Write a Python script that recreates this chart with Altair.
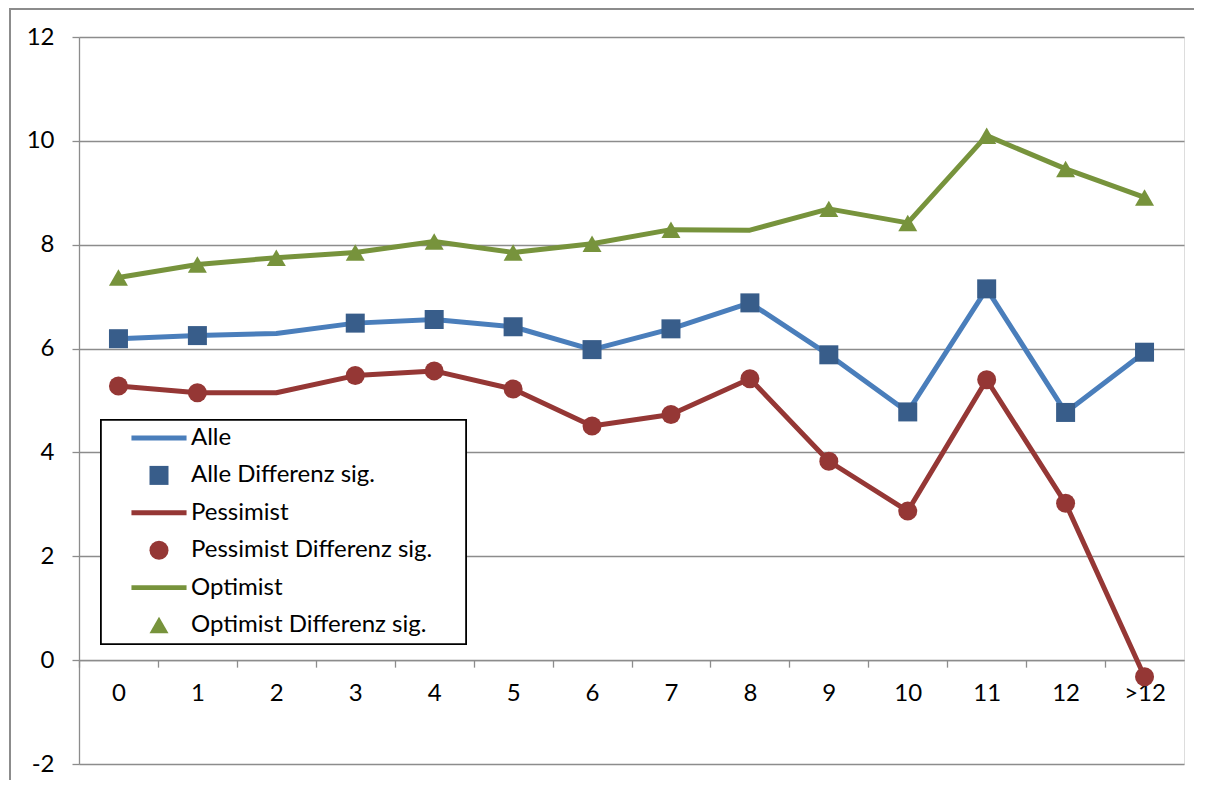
import altair as alt
import pandas as pd

categories = ["0", "1", "2", "3", "4", "5", "6", "7", "8", "9", "10", "11", "12", ">12"]
alle = [6.19, 6.25, 6.29, 6.49, 6.56, 6.42, 5.98, 6.38, 6.88, 5.88, 4.78, 7.15, 4.77, 5.93]
pessimist = [5.28, 5.15, 5.15, 5.48, 5.57, 5.22, 4.51, 4.73, 5.42, 3.83, 2.87, 5.40, 3.02, -0.32]
optimist = [7.37, 7.62, 7.75, 7.85, 8.06, 7.85, 8.02, 8.29, 8.28, 8.69, 8.42, 10.10, 9.46, 8.91]
alle_sig = [True, True, False, True, True, True, True, True, True, True, True, True, True, True]
pessimist_sig = [True, True, False, True, True, True, True, True, True, True, True, True, True, True]
optimist_sig = [True, True, True, True, True, True, True, True, False, True, True, True, True, True]

series_names = ["Alle", "Pessimist", "Optimist"]
line_colors = ["#4A7EBB", "#953735", "#77933C"]
legend_names = ["Alle", "Alle Differenz sig.", "Pessimist", "Pessimist Differenz sig.",
                "Optimist", "Optimist Differenz sig."]
legend_colors = ["#4A7EBB", "#385D8A", "#953735", "#953735", "#77933C", "#77933C"]
line_path = "M-2.9,-0.26H2.9V0.26H-2.9Z"
legend_shapes = [line_path, "square", line_path, "circle", line_path, "triangle-up"]

rows_line, rows_pt = [], []
for name, vals, sig in zip(series_names, [alle, pessimist, optimist],
                           [alle_sig, pessimist_sig, optimist_sig]):
    for c, v, s in zip(categories, vals, sig):
        rows_line.append({"cat": c, "value": v, "series": name})
        if s:
            rows_pt.append({"cat": c, "value": v, "series": name + " Differenz sig."})
df_line = pd.DataFrame(rows_line)
df_pt = pd.DataFrame(rows_pt)

W, H = 1105, 727
band = W / len(categories)
font = "Lato"
fs = 24
grid_col = "#8C8C8C"

x_enc = alt.X("cat:N", sort=categories,
              scale=alt.Scale(paddingInner=0, paddingOuter=0),
              axis=alt.Axis(title=None, orient="bottom", offset=-H * 2 / 14,
                            labelAngle=0, tickSize=7, tickColor=grid_col, tickWidth=1.3,
                            domainColor=grid_col, domainWidth=1.3,
                            tickOffset=-band / 2, labelOffset=band / 2,
                            labelPadding=14, labelFontSize=fs, labelFont=font,
                            labelColor="black", grid=False))
y_enc = alt.Y("value:Q",
              scale=alt.Scale(domain=[-2, 12], nice=False, zero=False),
              axis=alt.Axis(title=None, values=[-2, 0, 2, 4, 6, 8, 10, 12],
                            labelExpr="'' + datum.value",
                            grid=True, gridColor=grid_col, gridWidth=1.3,
                            domainColor=grid_col, domainWidth=1.3,
                            tickSize=7, tickColor=grid_col, tickWidth=1.3,
                            labelPadding=18, labelFontSize=fs, labelFont=font,
                            labelColor="black"))

color_scale = alt.Scale(domain=legend_names, range=legend_colors)
shape_scale = alt.Scale(domain=legend_names, range=legend_shapes)
legend_props = dict(title=None, orient="none", legendX=22, legendY=383)

lines = alt.Chart(df_line).mark_line(strokeWidth=5, strokeJoin="round", strokeCap="round").encode(
    x=x_enc, y=y_enc,
    stroke=alt.Stroke("series:N", scale=alt.Scale(domain=series_names, range=line_colors),
                      legend=None),
)

points = alt.Chart(df_pt).mark_point(filled=True, size=361, opacity=1, strokeWidth=0).encode(
    x=alt.X("cat:N", sort=categories),
    y=alt.Y("value:Q"),
    color=alt.Color("series:N", scale=color_scale,
                    legend=alt.Legend(padding=6, rowPadding=13.4, symbolSize=361,
                                      symbolOffset=40, labelOffset=20,
                                      labelFontSize=fs, labelFont=font, labelColor="black",
                                      symbolStrokeWidth=0, symbolOpacity=1,
                                      labelLimit=500, **legend_props)),
    shape=alt.Shape("series:N", scale=shape_scale, legend=alt.Legend(**legend_props)),
)

# decorative frames: outer chart border and legend box
frame_left = alt.Chart(df_line).mark_rule(color=grid_col, strokeWidth=1.5).encode(
    x=alt.value(-69), y=alt.value(-29), y2=alt.value(H + 20))
frame_top = alt.Chart(df_line).mark_rule(color=grid_col, strokeWidth=1.5).encode(
    x=alt.value(-69), x2=alt.value(W + 12), y=alt.value(-28.5))
legend_box = alt.Chart(df_line).mark_rect(fill="white", stroke="black", strokeWidth=1.6).encode(
    x=alt.value(22), x2=alt.value(387), y=alt.value(383), y2=alt.value(607))

chart = alt.layer(frame_left, frame_top, legend_box, lines, points).properties(
    width=W, height=H,
    autosize=alt.AutoSizeParams(type="none"),
    padding={"left": 71, "top": 29, "right": 10, "bottom": 16},
).configure_view(stroke=None).configure(background="white")

chart.save("out.html", embed_options={"renderer": "svg", "actions": False})
